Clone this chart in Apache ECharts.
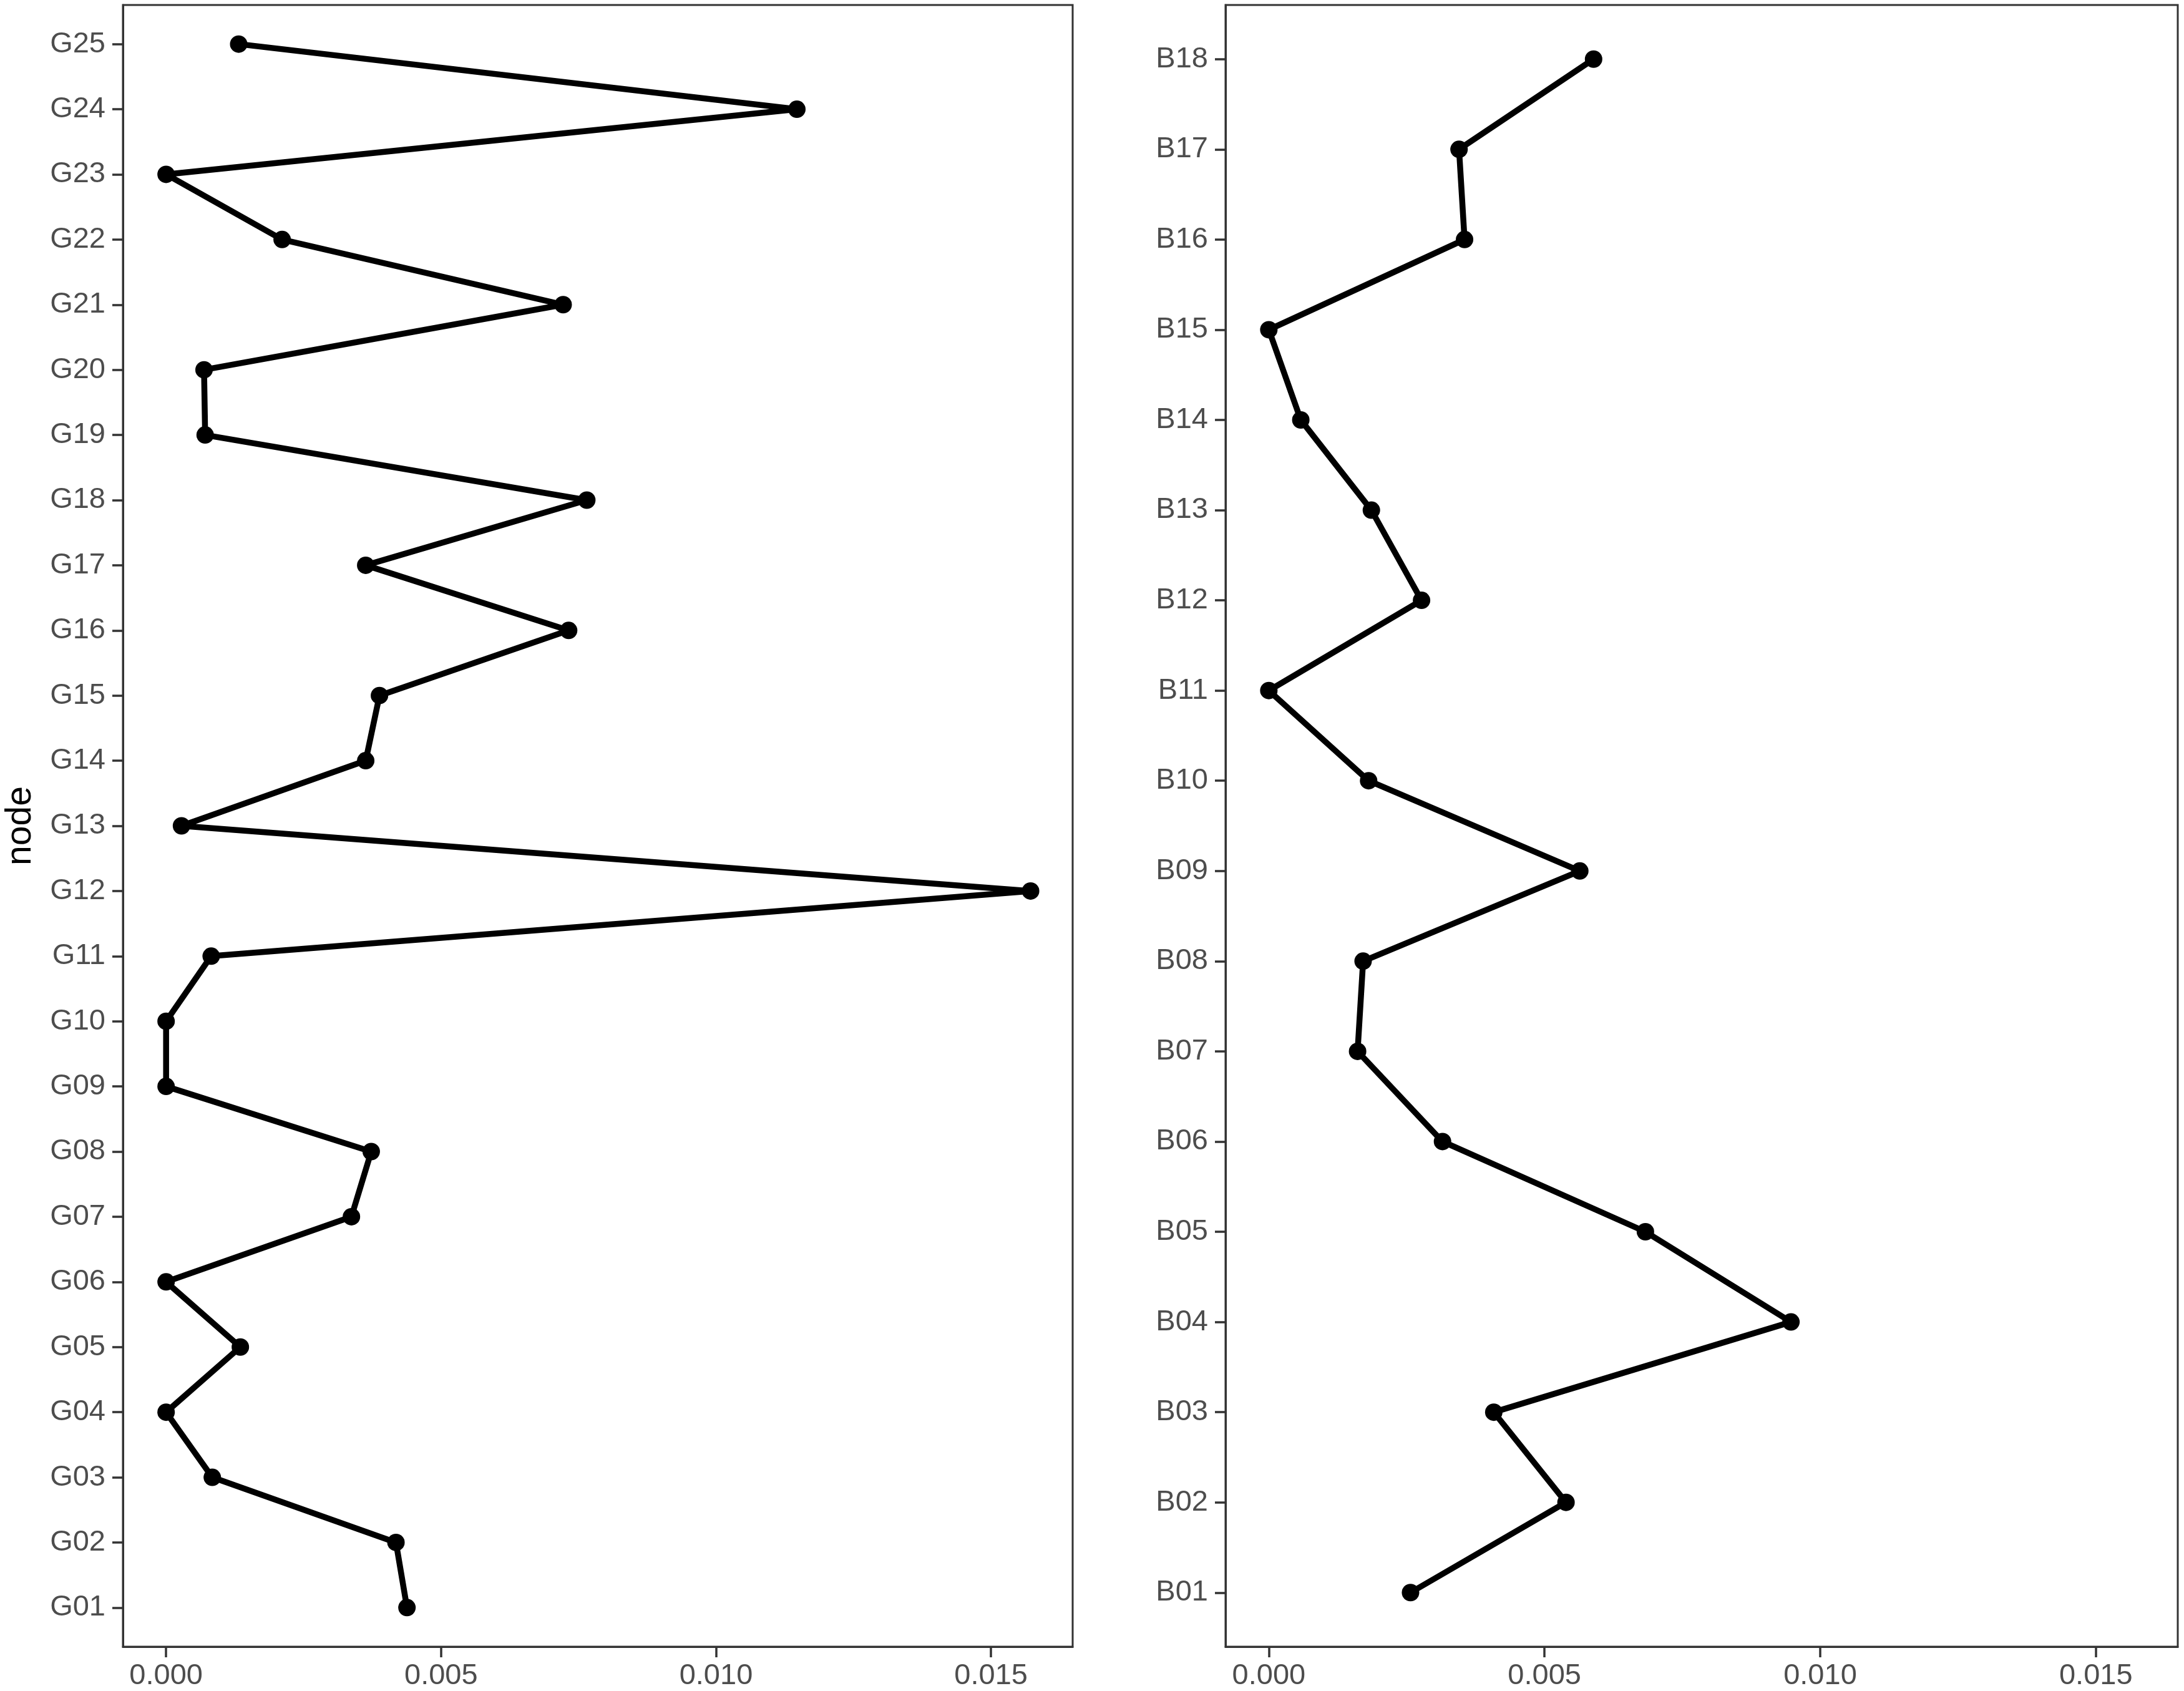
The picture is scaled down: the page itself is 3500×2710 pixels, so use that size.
<!DOCTYPE html>
<html>
<head>
<meta charset="utf-8">
<script src="https://cdn.jsdelivr.net/npm/echarts@6/dist/echarts.min.js"></script>
<style>html,body{margin:0;padding:0;background:#fff}#c{width:3500px;height:2710px}</style>
</head>
<body>
<div id="c"></div>
<script>
// ---- data ----
const gNodes = ['G01','G02','G03','G04','G05','G06','G07','G08','G09','G10','G11','G12','G13','G14','G15','G16','G17','G18','G19','G20','G21','G22','G23','G24','G25'];
const gValues = [0.00438,0.00418,0.00084,0.0000,0.00135,0.0000,0.00337,0.00373,0.0000,0.0000,0.00082,0.01572,0.00028,0.00363,0.00388,0.00732,0.00363,0.00765,0.00071,0.00069,0.00722,0.00211,0.0000,0.01147,0.00132];
const bNodes = ['B01','B02','B03','B04','B05','B06','B07','B08','B09','B10','B11','B12','B13','B14','B15','B16','B17','B18'];
const bValues = [0.00257,0.00539,0.00408,0.00947,0.00683,0.00315,0.00161,0.00171,0.00564,0.00181,0.0000,0.00277,0.00186,0.00058,0.0000,0.00355,0.00345,0.00589];
const xTicks = [0, 0.005, 0.010, 0.015];
const yTitle = 'node';

const FONT = '"Liberation Sans", Arial, Helvetica, sans-serif';
const TICK_COLOR = '#333333';
const LABEL_COLOR = '#4D4D4D';

const xMin = -0.000785, xMax = 0.016485;

function xAxisCfg(gi){
  return {
    type:'value', gridIndex:gi, min:xMin, max:xMax, position:'bottom',
    axisLine:{show:true, onZero:false, lineStyle:{color:TICK_COLOR, width:3}},
    splitLine:{show:false},
    axisTick:{show:true, length:17, customValues:xTicks, lineStyle:{color:TICK_COLOR,width:3.5}},
    axisLabel:{show:true, customValues:xTicks, margin:24, color:LABEL_COLOR, fontSize:47, fontFamily:FONT,
      formatter:v=>Number(v).toFixed(3)}
  };
}
function yAxisCfg(gi, labels, name){
  const idx = labels.map((_,i)=>i+1);
  const cfg = {
    type:'value', gridIndex:gi, min:0.4, max:labels.length+0.6, position:'left',
    axisLine:{show:true, onZero:false, lineStyle:{color:TICK_COLOR, width:3}},
    splitLine:{show:false},
    axisTick:{show:true, length:17, customValues:idx, lineStyle:{color:TICK_COLOR,width:3.5}},
    axisLabel:{show:true, customValues:idx, margin:28, color:LABEL_COLOR, fontSize:47, fontFamily:FONT,
      formatter:v=>labels[Math.round(v)-1] || ''}
  };
  if(name){
    cfg.name = name; cfg.nameLocation='middle'; cfg.nameGap=135;
    cfg.nameTextStyle = {color:'#000', fontSize:57, fontFamily:FONT};
  }
  return cfg;
}
function seriesCfg(gi, labels, values){
  return {
    type:'line', xAxisIndex:gi, yAxisIndex:gi,
    data: values.map((v,i)=>[v, i+1]),
    symbol:'circle', symbolSize:28,
    itemStyle:{color:'#000'},
    lineStyle:{color:'#000', width:9.5, join:'round', cap:'round'},
    silent:true, animation:false
  };
}

const chart = echarts.init(document.getElementById('c'), null, {renderer:'canvas'});
chart.setOption({
  backgroundColor:'#fff',
  animation:false,
  grid:[
    {left:197, width:1522, top:8, height:2631, show:true, borderColor:TICK_COLOR, borderWidth:3},
    {left:1964, width:1526, top:8, height:2631, show:true, borderColor:TICK_COLOR, borderWidth:3}
  ],
  xAxis:[xAxisCfg(0), xAxisCfg(1)],
  yAxis:[yAxisCfg(0, gNodes, yTitle), yAxisCfg(1, bNodes, null)],
  series:[seriesCfg(0, gNodes, gValues), seriesCfg(1, bNodes, bValues)]
});
</script>
</body>
</html>
